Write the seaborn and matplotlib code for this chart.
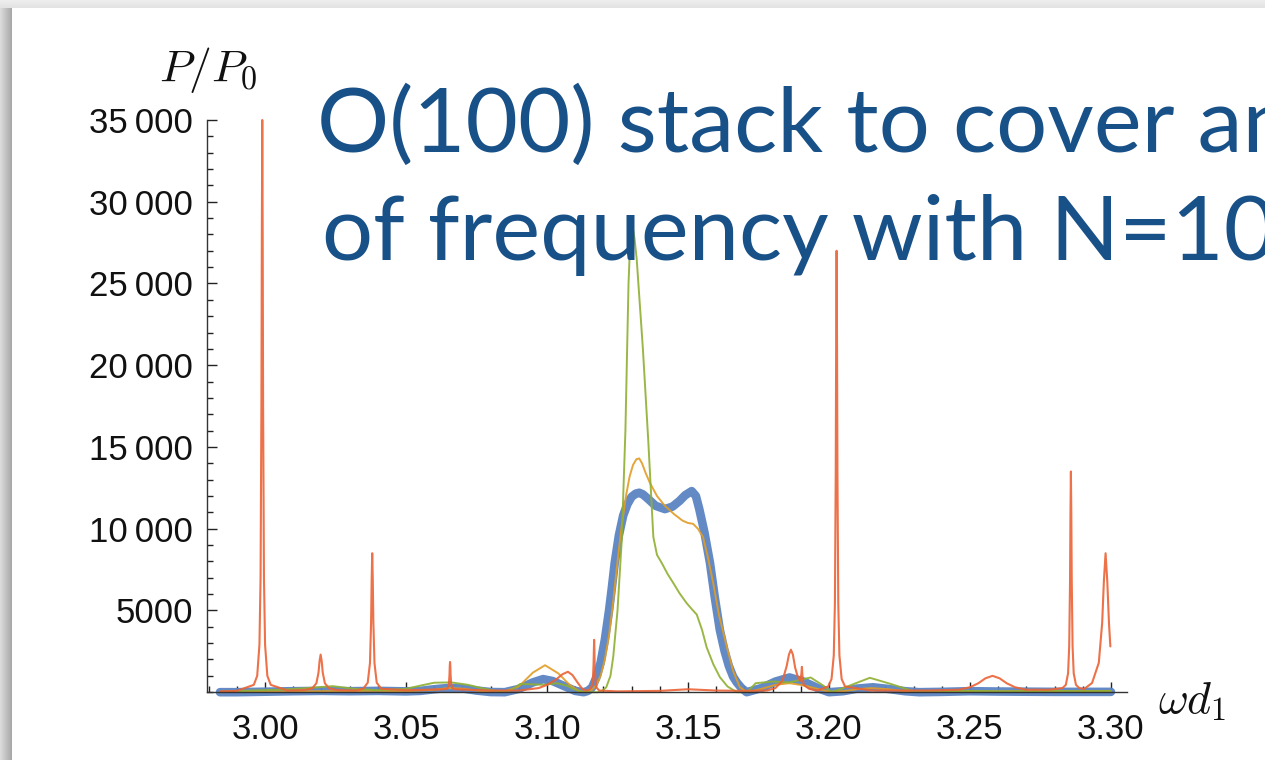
import numpy as np
import pandas as pd
import matplotlib
matplotlib.use("Agg")
import matplotlib.pyplot as plt
from matplotlib.patches import Rectangle
from matplotlib.ticker import FixedLocator, MultipleLocator, NullFormatter
import seaborn as sns

# ---------------- data ----------------
blue_x = [2.984, 2.990, 3.000, 3.010, 3.020, 3.030, 3.040, 3.050, 3.055, 3.060, 3.065, 3.070,
          3.075, 3.080, 3.085, 3.090, 3.095, 3.0986, 3.102, 3.106, 3.110, 3.113,
          3.1145, 3.116, 3.1175, 3.119, 3.1205, 3.122, 3.123, 3.124, 3.1255, 3.127, 3.1285,
          3.130, 3.1315, 3.1327, 3.134, 3.136, 3.1385, 3.1418, 3.1445, 3.147, 3.149, 3.1513,
          3.1528, 3.154, 3.1558, 3.1578, 3.1595, 3.1613, 3.163, 3.1645, 3.166, 3.1673, 3.169,
          3.1708, 3.176, 3.181, 3.186, 3.191, 3.196, 3.200, 3.205,
          3.210, 3.2156, 3.221, 3.227, 3.232, 3.240, 3.250, 3.260, 3.270, 3.280, 3.290, 3.300]
blue_y = [0, 0, 30, 60, 80, 60, 80, 50, 80, 180, 260, 230,
          100, 10, 0, 200, 600, 800, 680, 380, 80, 0,
          80, 300, 900, 1800, 3200, 5000, 6400, 7900, 9600, 10800, 11500,
          11950, 12150, 12200, 12100, 11800, 11400, 11200, 11350, 11700, 12050, 12300,
          12000, 11200, 9800, 7900, 5800, 3800, 2500, 1600, 950, 600, 250,
          0, 250, 650, 900, 650, 250, 0, 60,
          220, 300, 200, 60, 0, 20, 60, 40, 30, 20, 20, 20]

orange_x = [2.984, 3.000, 3.020, 3.040, 3.050, 3.060, 3.065, 3.070, 3.075, 3.080, 3.085, 3.090,
            3.095, 3.0993, 3.104, 3.108, 3.111, 3.113, 3.116, 3.1175, 3.119, 3.1205, 3.122,
            3.1235, 3.125, 3.1265, 3.128, 3.1293, 3.1305, 3.1317, 3.1327, 3.1337, 3.135,
            3.1365, 3.139, 3.1418, 3.145, 3.148, 3.150, 3.1518, 3.1535, 3.1553, 3.157, 3.1589,
            3.161, 3.1638, 3.166, 3.1684, 3.171, 3.176, 3.181, 3.186, 3.191, 3.196, 3.200,
            3.205, 3.210, 3.215, 3.221, 3.227, 3.232, 3.250, 3.270, 3.290, 3.300]
orange_y = [0, 40, 60, 80, 60, 150, 250, 220, 100, 20, 50, 350,
            1200, 1650, 1150, 450, 100, 0, 150, 450, 1000, 2000, 3500,
            5600, 8000, 10200, 12000, 13200, 13900, 14250, 14300, 14000, 13400,
            12800, 12000, 11400, 10900, 10500, 10350, 10300, 10000, 9500, 8300, 6700,
            4700, 2750, 1300, 300, 0, 200, 450, 550, 420, 200, 30,
            60, 180, 250, 180, 60, 10, 50, 60, 60, 60]

green_x = [2.984, 2.995, 3.005, 3.015, 3.024, 3.032, 3.040, 3.050, 3.055, 3.060, 3.066, 3.072,
           3.078, 3.083, 3.087, 3.0905, 3.095, 3.099, 3.1035, 3.107, 3.110, 3.113, 3.118,
           3.1195, 3.121, 3.1225, 3.1235, 3.125, 3.1265, 3.1278, 3.1289, 3.1296, 3.1303,
           3.131, 3.1318, 3.134, 3.1359, 3.1377, 3.139, 3.1407, 3.1427, 3.1447, 3.147, 3.1495,
           3.1515, 3.1531, 3.155, 3.1566, 3.159, 3.1613, 3.164, 3.1673, 3.171, 3.174, 3.180,
           3.186, 3.1935, 3.198, 3.201, 3.205, 3.2145, 3.222, 3.230, 3.240, 3.250, 3.260,
           3.270, 3.280, 3.290, 3.300]
green_y = [20, 100, 150, 250, 370, 200, 120, 200, 400, 580, 600, 450,
           200, 40, 100, 500, 480, 450, 550, 400, 150, 0, 0,
           80, 300, 1000, 2200, 5000, 9300, 16000, 25000, 28000, 28500,
           27800, 26500, 21000, 15400, 9500, 8400, 7900, 7250, 6700, 6050, 5450,
           5050, 4750, 3800, 2750, 1700, 920, 350, 0, 0, 550, 650,
           600, 900, 400, 0, 250, 880, 500, 50, 60, 80, 50,
           60, 80, 60, 80]

red_x = [2.984, 2.990, 2.9960, 2.9972, 2.9980, 2.9984, 2.9987, 2.99885, 2.9990, 2.99915, 2.9993,
         2.9996, 3.0000, 3.0008, 3.0020, 3.008, 3.0137, 3.0167, 3.0182, 3.01895, 3.01932,
         3.0197, 3.02008, 3.02045, 3.0212, 3.0227, 3.0257, 3.032, 3.0348, 3.0364, 3.0372,
         3.0376, 3.0378, 3.0380, 3.0382, 3.0384, 3.0388, 3.0396, 3.0412, 3.050, 3.0640,
         3.0648, 3.0652, 3.0654, 3.0655, 3.0656, 3.0657, 3.0658, 3.0660, 3.0664, 3.0672,
         3.080, 3.090, 3.097, 3.100, 3.103, 3.1055, 3.1074, 3.109, 3.111, 3.1125, 3.114,
         3.1150, 3.1159, 3.1163, 3.1165, 3.1166, 3.1167, 3.1168, 3.1169, 3.1171, 3.1175,
         3.1185, 3.125, 3.140, 3.150, 3.160, 3.170, 3.178, 3.181, 3.1835, 3.185, 3.1858,
         3.1865, 3.1872, 3.188, 3.189, 3.1898, 3.1902, 3.1904, 3.1906, 3.191, 3.193, 3.196,
         3.1997, 3.2009, 3.2017, 3.2021, 3.2024, 3.20255, 3.2027, 3.20285, 3.2030, 3.2033,
         3.2037, 3.2045, 3.2057, 3.215, 3.235, 3.246, 3.250, 3.253, 3.2555, 3.258, 3.2605,
         3.263, 3.266, 3.270, 3.278, 3.2828, 3.2840, 3.2848, 3.2852, 3.2855, 3.28565, 3.2858,
         3.28595, 3.2861, 3.2864, 3.2868, 3.2876, 3.2888, 3.2905, 3.2933, 3.2957, 3.2969,
         3.2975, 3.2981, 3.2987, 3.2993, 3.2998]
red_y = [50, 80, 450, 1000, 2900, 7000, 17500, 28000, 35000, 28000, 17500,
         7000, 2900, 1000, 450, 100, 130, 230, 550, 1200, 1900,
         2300, 1900, 1200, 550, 230, 130, 100, 210, 580, 1780,
         4300, 6850, 8500, 6850, 4300, 1780, 580, 210, 120, 180,
         260, 510, 1050, 1590, 1850, 1590, 1050, 510, 260, 180,
         100, 100, 250, 450, 750, 1100, 1250, 1050, 550, 200, 100,
         150, 400, 900, 1700, 2600, 3200, 2600, 1700, 900, 300,
         100, 50, 80, 180, 100, 80, 100, 250, 700, 1600, 2300,
         2600, 2300, 1500, 900, 700, 1100, 1550, 1000, 450, 200, 100,
         350, 800, 2250, 5400, 13500, 21600, 27000, 21600, 13500, 5400,
         2250, 800, 350, 100, 100, 150, 300, 550, 850, 1000, 850,
         550, 300, 150, 150, 250, 450, 1150, 2800, 6850, 10900, 13500,
         10900, 6850, 2800, 1150, 450, 250, 200, 560, 1800, 4250,
         6800, 8500, 6800, 4250, 2800]

x_ticks = [3.00, 3.05, 3.10, 3.15, 3.20, 3.25, 3.30]
x_tick_labels = ["3.00", "3.05", "3.10", "3.15", "3.20", "3.25", "3.30"]
y_ticks = [5000, 10000, 15000, 20000, 25000, 30000, 35000]
y_tick_labels = ["5000", "10\u2009000", "15\u2009000", "20\u2009000", "25\u2009000", "30\u2009000", "35\u2009000"]

title_lines = ["O(100) stack to cover an", "of frequency with N=100"]

# ---------------- style ----------------
sns.set_theme(style="white")
plt.rcParams["font.family"] = ["Liberation Sans", "DejaVu Sans"]
plt.rcParams["mathtext.fontset"] = "cm"

W, H = 1265, 760
fig = plt.figure(figsize=(W / 100, H / 100), dpi=100)
fig.patch.set_facecolor("white")

# slide shadow (left and top edges)
for i in range(12):
    g = 0.86 - 0.20 * (i / 11)
    fig.add_artist(Rectangle((i / W, 0), 1 / W, 1 - 8 / H, transform=fig.transFigure,
                             facecolor=(g, g, g), edgecolor="none", zorder=0))
for j in range(8):
    g = 0.93 - 0.04 * (j / 7)
    fig.add_artist(Rectangle((0, 1 - (j + 1) / H), 1, 1 / H, transform=fig.transFigure,
                             facecolor=(g, g, g), edgecolor="none", zorder=0))

left_px, right_px, top_px, bot_px = 207, 1127, 120, 702
ax = fig.add_axes([left_px / W, (H - bot_px) / H, (right_px - left_px) / W, (bot_px - top_px) / H])
ax.set_facecolor("none")

colors = {"blue": "#5B84C2", "orange": "#E19C24", "green": "#8FB032", "red": "#EB6235"}
series = [
    (blue_x, blue_y, colors["blue"], 6.2, 0.95),
    (orange_x, orange_y, colors["orange"], 1.4, 0.9),
    (green_x, green_y, colors["green"], 1.4, 0.9),
    (red_x, red_y, colors["red"], 1.5, 0.9),
]
for xs, ys, c, lw, a in series:
    df = pd.DataFrame({"x": xs, "y": ys})
    sns.lineplot(data=df, x="x", y="y", ax=ax, color=c, lw=lw, alpha=a,
                 estimator=None, sort=False, clip_on=False)
for ln in ax.get_lines():
    ln.set_solid_joinstyle("round")
    ln.set_solid_capstyle("round")

ax.set_xlim(2.9794, 3.3057)
ax.set_ylim(-600, 35000)
ax.set_xlabel("")
ax.set_ylabel("")

for s in ["top", "right"]:
    ax.spines[s].set_visible(False)
ax.spines["bottom"].set_position(("data", 0))
ax.spines["left"].set_bounds(0, 35000)
for s in ["bottom", "left"]:
    ax.spines[s].set_color("#333333")
    ax.spines[s].set_linewidth(1.0)

ax.xaxis.set_major_locator(FixedLocator(x_ticks))
ax.set_xticklabels(x_tick_labels)
ax.xaxis.set_minor_locator(MultipleLocator(0.01))
ax.yaxis.set_major_locator(FixedLocator(y_ticks))
ax.set_yticklabels(y_tick_labels)
ax.yaxis.set_minor_locator(MultipleLocator(1000))
ax.yaxis.set_minor_formatter(NullFormatter())
ax.xaxis.set_minor_formatter(NullFormatter())
ax.tick_params(axis="both", which="both", direction="in", color="#222222", width=1.0,
               labelsize=25, labelcolor="#111111", bottom=True, left=True)
ax.tick_params(axis="both", which="major", length=7.2)
ax.tick_params(axis="both", which="minor", length=4.5)
ax.tick_params(axis="x", which="major", pad=15)
ax.tick_params(axis="y", which="major", pad=10)

# axis labels (Mathematica-style placement)
fig.text(208 / W, 1 - 82 / H, r"$P/P_0$", fontsize=33, ha="center", va="baseline", color="#111111")
fig.text(1158 / W, 1 - 713 / H, r"$\omega d_1$", fontsize=33, ha="left", va="baseline", color="#111111")

# slide title over the plot
fig.text(317 / W, 1 - 152 / H, title_lines[0], fontsize=65, family=["Lato", "DejaVu Sans"],
         color="#185088", ha="left", va="baseline", zorder=10)
fig.text(322 / W, 1 - 260 / H, title_lines[1], fontsize=65, family=["Lato", "DejaVu Sans"],
         color="#185088", ha="left", va="baseline", zorder=10)

fig.savefig("out.png", dpi=100, facecolor="white")
